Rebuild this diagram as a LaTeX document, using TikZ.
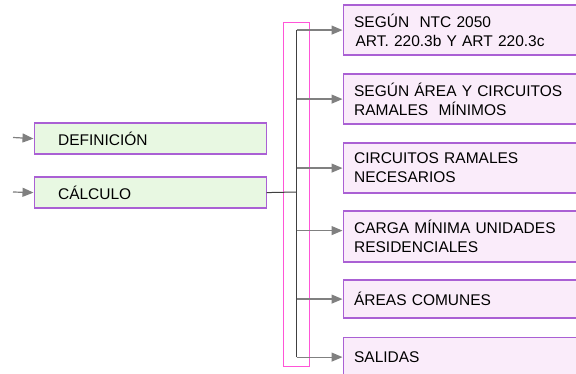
\documentclass[tikz,border=0pt]{standalone}
\usepackage{fontspec}
\setmainfont{Liberation Sans}
\usetikzlibrary{arrows.meta}

\definecolor{boxline}{RGB}{170,96,212}
\definecolor{greenfill}{RGB}{232,248,226}
\definecolor{lilacfill}{RGB}{250,236,250}
\definecolor{brace}{RGB}{255,85,215}
\definecolor{arrowgray}{RGB}{128,128,128}
\newcommand{\boxfont}{\fontsize{15.5}{19}\selectfont\hyphenpenalty=10000\relax}

\begin{document}
\begin{tikzpicture}[x=1pt,y=-1pt]
	\tikzset{leftbox/.style = {draw=boxline, line width=1.2pt, fill=greenfill, anchor=north west,
			minimum width=232pt, minimum height=31pt, inner xsep=24pt, inner ysep=0pt,
			text width=184pt, align=left, font=\boxfont}}
	\tikzset{rightbox/.style = {draw=boxline, line width=1.2pt, fill=lilacfill, anchor=north west,
			minimum width=233pt, inner xsep=11pt, inner ysep=0pt,
			text width=211pt, align=left, font=\boxfont}}
	\tikzset{arr/.style = {-{Triangle[length=11pt,width=9pt]}, draw=arrowgray, fill=arrowgray, line width=1.2pt}}
	\useasboundingbox (0,0) rectangle (576,374);
	% left side
	\node[leftbox] (def) at (33.5,122.5) {DEFINICIÓN};
	\node[leftbox, inner xsep=22pt] (calc) at (33.5,176.5) {CÁLCULO};
	\coordinate (indef) at (13,137.5);
	\coordinate (incalc) at (13,192);
	\draw[arr] (indef) -- (def.west);
	\draw[arr] (incalc) -- (calc.west);
	% right side
	\node[rightbox, minimum height=50pt] (b1) at (342.5,4.5) {SEGÚN\ \ NTC 2050\\\hspace*{1.5pt}ART. 220.3b Y ART 220.3c};
	\node[rightbox, minimum height=50pt] (b2) at (342.5,73.5) {SEGÚN ÁREA Y CIRCUITOS\\RAMALES\ \ MÍNIMOS};
	\node[rightbox, minimum height=50pt] (b3) at (342.5,142.5) {CIRCUITOS RAMALES\\NECESARIOS};
	\node[rightbox, minimum height=51pt] (b4) at (342.5,210.5) {CARGA MÍNIMA UNIDADES\\RESIDENCIALES};
	\node[rightbox, minimum height=38pt] (b5) at (342.5,279.5) {ÁREAS COMUNES};
	\node[rightbox, minimum height=40pt] (b6) at (342.5,336.5) {SALIDAS};
	\coordinate (b4in) at ([yshift=6pt]b4.west);
	% bracket
	\draw[brace, line width=1pt] (283.5,22.5) rectangle (309.5,366.5);
	\coordinate (trunk) at (296.5,192);
	\draw[black!75, line width=1pt] (calc.east) -- (trunk);
	\draw[black!75, line width=1pt] (trunk |- b1.west) -- (trunk |- b6.west);
	\foreach \b in {b1,b2,b3,b5,b6}
		\draw[arr] (trunk |- \b.west) -- (\b.west);
	\draw[arr] (trunk |- b4in) -- (b4in);
\end{tikzpicture}
\end{document}
